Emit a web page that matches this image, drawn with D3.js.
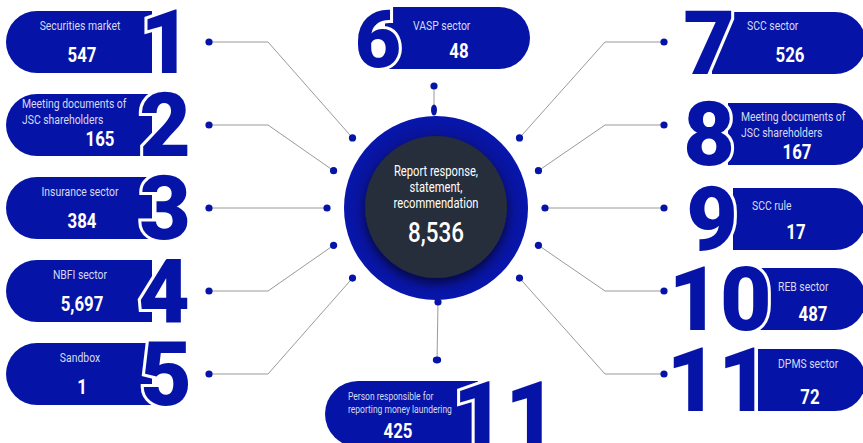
<!doctype html>
<html lang="en">
<head>
<meta charset="utf-8">
<title>Report response infographic</title>
<style>
  body { margin: 0; background: #fff; }
  svg { display: block; }
  .lbl { font-family: Roboto, "Open Sans", sans-serif; fill: #d6d9f2; font-size: 13px; }
  .val { font-family: Roboto, "Open Sans", sans-serif; font-weight: 700; fill: #fff; font-size: 21px; }
  .num { font-family: Roboto, "Open Sans", sans-serif; font-weight: 900; fill: #0514a6; stroke: #fff; stroke-width: 6px; paint-order: stroke; stroke-linejoin: miter; }
</style>
</head>
<body>
<svg width="863" height="443"></svg>
<script src="https://d3js.org/d3.v7.min.js"></script>
<script>
// data
var leftLabels = [["Securities market"], ["Meeting documents of", "JSC shareholders"], ["Insurance sector"], ["NBFI sector"], ["Sandbox"]];
var leftValues = [547, 165, 384, 5697, 1];
var leftNums = ["1", "2", "3", "4", "5"];

var rightLabels = [["SCC sector"], ["Meeting documents of", "JSC shareholders"], ["SCC rule"], ["REB sector"], ["DPMS sector"]];
var rightValues = [526, 167, 17, 487, 72];
var rightNums = ["7", "8", "9", "10", "11"];

var topLabel = ["VASP sector"], topValue = 48, topNum = "6";
var bottomLabel = ["Person responsible for", "reporting money laundering"], bottomValue = 425, bottomNum = "11";

var centerLabel = ["Report response,", "statement,", "recommendation"], centerValue = 8536;

var blue = "#0514a6", fmt = d3.format(",");
var svg = d3.select("svg");
var squeeze = 0.8; // condensed look

var defs = svg.append("defs");
var f = defs.append("filter").attr("id", "shadow").attr("x", "-30%").attr("y", "-30%").attr("width", "160%").attr("height", "160%");
f.append("feDropShadow").attr("dx", 0).attr("dy", 5).attr("stdDeviation", 5).attr("flood-color", "#000").attr("flood-opacity", 0.55);
var rg = defs.append("radialGradient").attr("id", "ring");
rg.append("stop").attr("offset", "70%").attr("stop-color", "#0a1290");
rg.append("stop").attr("offset", "100%").attr("stop-color", "#0716ad");

// rows
var yRow = d3.scalePoint().domain(d3.range(5)).range([42, 374]);
var cx = 436, cy = 208, rDot = 109;
var ang = d3.scaleLinear().domain([0, 4]).range([-40, 40]);
function inner(i, side) {
  var a = ang(i) * Math.PI / 180;
  return [cx + side * rDot * Math.cos(a), cy + rDot * Math.sin(a)];
}

// connectors
var lineG = svg.append("g").attr("fill", "none").attr("stroke", "#9a9a9a").attr("stroke-width", 1);
var dotG = svg.append("g").attr("fill", blue);
d3.range(5).forEach(function(i) {
  var pl = inner(i, -1), pr = inner(i, 1), y = yRow(i);
  lineG.append("path").attr("d", d3.line()([[209, y], [268, y], pl]));
  lineG.append("path").attr("d", d3.line()([[664, y], [605, y], pr]));
  [[209, y], pl, [664, y], pr].forEach(function(p) {
    dotG.append("circle").attr("cx", p[0]).attr("cy", p[1]).attr("r", 3.6);
  });
});
lineG.append("path").attr("d", d3.line()([[434, 86], [434, 110]]));
lineG.append("path").attr("d", d3.line()([[438, 302], [437, 361]]));
dotG.append("circle").attr("cx", 434).attr("cy", 86).attr("r", 3.6);
dotG.append("ellipse").attr("cx", 434).attr("cy", 110).attr("rx", 3).attr("ry", 5.5);
dotG.append("circle").attr("cx", 438).attr("cy", 302).attr("r", 3.6);
dotG.append("ellipse").attr("cx", 437).attr("cy", 360).attr("rx", 4.2).attr("ry", 3.4);

// pill path: roundL / roundR flags
function pill(x0, x1, y0, y1, roundL, roundR) {
  var r = (y1 - y0) / 2, p = d3.path();
  p.moveTo(x0 + (roundL ? r : 0), y0);
  if (roundR) { p.lineTo(x1 - r, y0); p.arc(x1 - r, y0 + r, r, -Math.PI / 2, Math.PI / 2); }
  else { p.lineTo(x1, y0); p.lineTo(x1, y1); }
  if (roundL) { p.lineTo(x0 + r, y1); p.arc(x0 + r, y0 + r, r, Math.PI / 2, Math.PI * 1.5); }
  else { p.lineTo(x0, y1); }
  p.closePath();
  return p.toString();
}

// condensed text: draw at origin, then translate + squeeze horizontally
function ctext(g, cls, x, y, anchor, t) {
  return g.append("text").attr("class", cls)
    .attr("transform", "translate(" + x + "," + y + ") scale(" + squeeze + ",1)")
    .attr("text-anchor", anchor).attr("dominant-baseline", "central").text(t);
}

function textBlock(g, lines, x, y, anchor, value, vx, vy, lh) {
  lh = lh || 16;
  var lbls = lines.map(function(t, k) { return ctext(g, "lbl", x, y + k * lh, anchor, t); });
  ctext(g, "val", vx, vy, "middle", fmt(value));
  return lbls;
}

var pillG = svg.append("g");

// left column
var leftNumX = [166, 165, 165, 164, 166];
leftValues.forEach(function(v, i) {
  var y = yRow(i), g = pillG.append("g");
  g.append("path").attr("d", pill(6, 152, y - 31, y + 31, true, false)).attr("fill", blue);
  if (leftLabels[i].length > 1) textBlock(g, leftLabels[i], 22, y - 21, "start", v, 100, y + 14);
  else textBlock(g, leftLabels[i], 80, y - 16, "middle", v, 82, y + 13);
  g.append("text").attr("class", "num").attr("x", leftNumX[i]).attr("y", y + 31)
    .attr("text-anchor", "middle").attr("font-size", 89).text(leftNums[i]);
});

// right column
var rightY = [43, 134, 219, 299, 380];
var rightX0 = [712, 728, 733, 755, 758];
var rightNumX = [709, 709, 712, 720, 718];
var rightLab = [[747, 26], [741, 117], [752, 206], [778, 287], [778, 364]];
var rightVal = [[790, 55], [797, 152], [796, 232], [813, 314], [810, 397]];
rightValues.forEach(function(v, i) {
  var y = rightY[i], g = pillG.append("g");
  g.append("path").attr("d", pill(rightX0[i], 866, y - 31, y + 31, false, true)).attr("fill", blue);
  textBlock(g, rightLabels[i], rightLab[i][0], rightLab[i][1], "start", v, rightVal[i][0], rightVal[i][1]);
  g.append("text").attr("class", "num").attr("x", rightNumX[i]).attr("y", y + 31)
    .attr("text-anchor", "middle").attr("font-size", 89).text(rightNums[i]);
});

// top pill
var gt = pillG.append("g");
gt.append("path").attr("d", pill(385, 530, 7, 69, false, true)).attr("fill", blue);
textBlock(gt, topLabel, 413, 26, "start", topValue, 459, 51);
gt.append("text").attr("class", "num").attr("x", 378).attr("y", 67)
  .attr("text-anchor", "middle").attr("font-size", 80).text(topNum);

// bottom pill
var gb = pillG.append("g");
gb.append("path").attr("d", pill(325, 478, 381, 447, true, false)).attr("fill", blue);
textBlock(gb, bottomLabel, 348, 396, "start", bottomValue, 398, 431, 13)
  .forEach(function(t) {
    t.style("font-size", "11.5px")
      .attr("transform", t.attr("transform").replace("scale(" + squeeze, "scale(0.74"));
  });
gb.append("text").attr("class", "num").attr("x", 505).attr("y", 446)
  .attr("text-anchor", "middle").attr("font-size", 90).text(bottomNum);

// center
svg.append("circle").attr("cx", cx).attr("cy", cy).attr("r", 92).attr("fill", "url(#ring)");
svg.append("circle").attr("cx", cx).attr("cy", cy - 1).attr("r", 71).attr("fill", "#252d3a").attr("filter", "url(#shadow)");
var cg = svg.append("g");
centerLabel.forEach(function(t, k) {
  ctext(cg, "lbl", cx, 171 + k * 16, "middle", t).style("fill", "#fff").style("font-size", "14px");
});
ctext(cg, "val", cx, 232, "middle", fmt(centerValue)).style("font-size", "28px").style("font-weight", 500);
</script>
</body>
</html>
